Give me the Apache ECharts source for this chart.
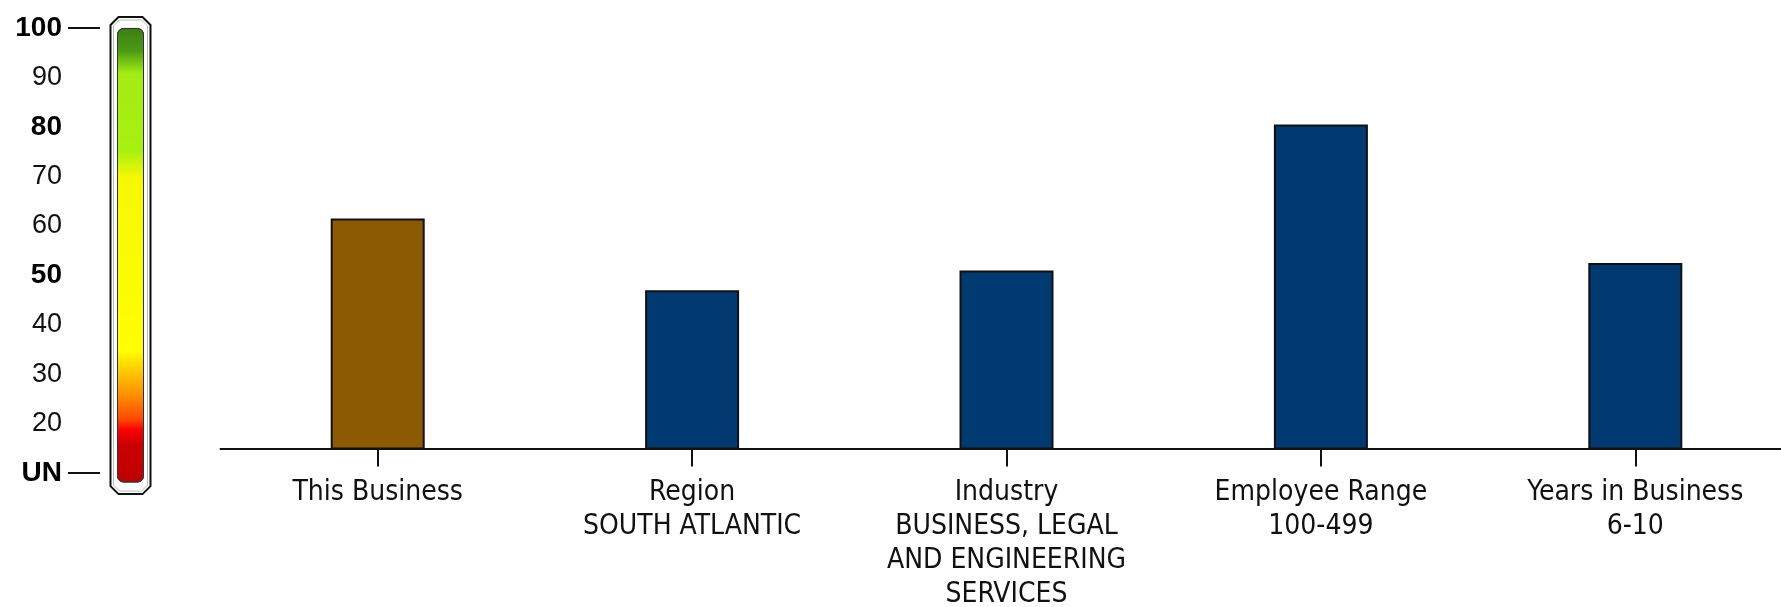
<!DOCTYPE html>
<html>
<head>
<meta charset="utf-8">
<script src="https://cdn.jsdelivr.net/npm/echarts@6/dist/echarts.min.js"></script>
<style>
  html, body { margin: 0; padding: 0; background: #ffffff; }
  #chart { width: 1781px; height: 607px; }
</style>
</head>
<body>
<div id="chart"></div>
<script>
// ---- data ----
var categories = [
  'This Business',
  'Region\nSOUTH ATLANTIC',
  'Industry\nBUSINESS, LEGAL\nAND ENGINEERING\nSERVICES',
  'Employee Range\n100-499',
  'Years in Business\n6-10'
];
var scores = [61.5, 47, 51, 80.5, 52.5];
var barColors = ['#8c5a00', '#003a70', '#003a70', '#003a70', '#003a70'];
var scaleTicks = [10, 20, 30, 40, 50, 60, 70, 80, 90, 100];
var boldTicks = [10, 50, 80, 100];
var scaleTopValue = 100;

var chart = echarts.init(document.getElementById('chart'), null, { renderer: 'canvas' });

var labelFont = "'Liberation Sans Narrow', 'DejaVu Sans Condensed', 'Liberation Sans', sans-serif";

var option = {
  backgroundColor: '#ffffff',
  animation: false,
  grid: [
    { left: 220.5, width: 1572, top: 28, bottom: 158.5, containLabel: false, outerBoundsMode: 'none' },
    { left: 100, width: 61, top: 25, bottom: 125, containLabel: false, outerBoundsMode: 'none' }
  ],
  xAxis: [
    {
      type: 'category',
      gridIndex: 0,
      data: categories,
      boundaryGap: true,
      axisLine: { show: true, lineStyle: { color: '#111', width: 2 } },
      axisTick: { show: true, alignWithLabel: true, length: 18, lineStyle: { color: '#111', width: 2 } },
      axisLabel: {
        interval: 0,
        margin: 27,
        color: '#111',
        fontFamily: labelFont,
        fontSize: 28,
        lineHeight: 34,
        align: 'center'
      },
      splitLine: { show: false }
    },
    {
      type: 'category',
      gridIndex: 1,
      data: ['scale'],
      show: false
    }
  ],
  yAxis: [
    {
      type: 'value',
      gridIndex: 0,
      min: 15,
      max: 100,
      show: false,
      splitLine: { show: false }
    },
    {
      type: 'value',
      gridIndex: 1,
      min: 8.2,
      max: 100.6,
      position: 'left',
      axisLine: { show: false },
      splitLine: { show: false },
      axisTick: {
        show: true,
        customValues: [10, 100],
        length: 32,
        lineStyle: { color: '#111', width: 2 }
      },
      axisLabel: {
        show: true,
        customValues: scaleTicks,
        margin: 38,
        color: '#111',
        fontFamily: "'Liberation Sans', Arial, sans-serif",
        fontSize: 27,
        formatter: function (v) {
          var txt = (v === 10) ? 'UN' : String(v);
          return boldTicks.indexOf(v) >= 0 ? '{b|' + txt + '}' : txt;
        },
        rich: {
          b: {
            fontWeight: 'bold',
            fontSize: 28,
            color: '#000',
            fontFamily: "'Liberation Sans', Arial, sans-serif"
          }
        }
      }
    }
  ],
  series: [
    {
      type: 'bar',
      xAxisIndex: 0,
      yAxisIndex: 0,
      barWidth: 94,
      clip: true,
      data: scores.map(function (v, i) {
        return { value: v, itemStyle: { color: barColors[i] } };
      }),
      itemStyle: { borderColor: '#111', borderWidth: 2 }
    },
    {
      type: 'bar',
      xAxisIndex: 1,
      yAxisIndex: 1,
      barWidth: 27,
      clip: true,
      z: 5,
      data: [scaleTopValue],
      itemStyle: {
        borderColor: '#333',
        borderWidth: 1,
        borderRadius: 6,
        color: new echarts.graphic.LinearGradient(0, 0, 0, 1, [
          { offset: 0.00, color: '#3a7f12' },
          { offset: 0.05, color: '#4a9a14' },
          { offset: 0.10, color: '#a2ec14' },
          { offset: 0.27, color: '#a8f010' },
          { offset: 0.33, color: '#f6f800' },
          { offset: 0.71, color: '#ffff00' },
          { offset: 0.75, color: '#ffd000' },
          { offset: 0.81, color: '#ff8c00' },
          { offset: 0.86, color: '#ff4a00' },
          { offset: 0.885, color: '#f80000' },
          { offset: 0.92, color: '#c80000' },
          { offset: 1.00, color: '#c00000' }
        ])
      }
    }
  ]
};

chart.setOption(option);

// Frame around the colour scale, placed from the scale's own coordinates
var pTop = chart.convertToPixel({ gridIndex: 1 }, [0, 100]);
var pBot = chart.convertToPixel({ gridIndex: 1 }, [0, 10]);
var cx = pTop[0];
var t = pTop[1] - 11, b = pBot[1] + 21, hw = 20, ch = 8;
chart.setOption({
  graphic: [
    {
      type: 'polygon',
      z: 1,
      shape: {
        points: [
          [cx - hw + ch, t], [cx + hw - ch, t], [cx + hw, t + ch], [cx + hw, b - ch],
          [cx + hw - ch, b], [cx - hw + ch, b], [cx - hw, b - ch], [cx - hw, t + ch]
        ]
      },
      style: { fill: '#ffffff', stroke: '#111', lineWidth: 2 }
    },
    {
      type: 'polygon',
      z: 1,
      shape: {
        points: [
          [cx - hw + ch + 1, t + 3], [cx + hw - ch - 1, t + 3], [cx + hw - 3, t + ch + 1], [cx + hw - 3, b - ch - 1],
          [cx + hw - ch - 1, b - 3], [cx - hw + ch + 1, b - 3], [cx - hw + 3, b - ch - 1], [cx - hw + 3, t + ch + 1]
        ]
      },
      style: { fill: 'none', stroke: '#bbb', lineWidth: 1 }
    }
  ]
});
</script>
</body>
</html>
